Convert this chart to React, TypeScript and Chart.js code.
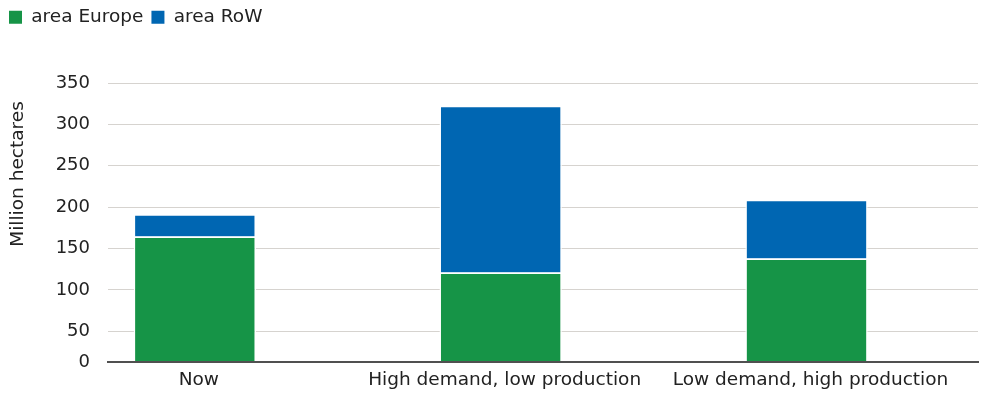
import React, { useEffect, useRef } from "react";
import { Chart, registerables } from "chart.js";

Chart.register(...registerables);

const CATEGORIES = ["Now", "High demand, low production", "Low demand, high production"];
const AREA_EUROPE = [164.5, 121, 138];
const AREA_ROW = [27, 201.5, 71];
const SERIES_NAMES = ["area Europe", "area RoW"];
const Y_TICKS = [13, 50, 100, 150, 200, 250, 300, 350];
const Y_MIN = 13;
const Y_MAX = 350;
const Y_TITLE = "Million hectares";

const FONT = "'DejaVu Sans', Verdana, sans-serif";

const yTitlePlugin = {
  id: "yTitle",
  afterDraw(chart: any) {
    const ctx = chart.ctx;
    ctx.save();
    ctx.translate(18, 174);
    ctx.rotate(-Math.PI / 2);
    ctx.font = `18.5px ${FONT}`;
    ctx.fillStyle = "#222";
    ctx.textAlign = "center";
    ctx.textBaseline = "middle";
    ctx.fillText(Y_TITLE, 0, 0);
    ctx.restore();
  },
};

const legendSpacePlugin = {
  id: "legendSpace",
  beforeInit(chart: any) {
    const legend = chart.legend;
    if (!legend) return;
    const fit = legend.fit;
    legend.fit = function () {
      fit.call(this);
      this.height = 83;
    };
  },
};

export default function App() {
  const ref = useRef<HTMLCanvasElement | null>(null);

  useEffect(() => {
    if (!ref.current) return;
    Chart.defaults.font.family = FONT;
    Chart.defaults.font.size = 18;
    Chart.defaults.color = "#222";
    const baseLabels = Chart.defaults.plugins.legend.labels.generateLabels;
    const chart = new Chart(ref.current, {
      type: "bar",
      data: {
        datasets: [
          {
            label: SERIES_NAMES[0],
            data: AREA_EUROPE.map((v, i) => ({ x: i, y: v })),
            backgroundColor: "#169447",
            borderColor: "#ffffff",
            borderWidth: 1.5,
            clip: 0,
          },
          {
            label: SERIES_NAMES[1],
            data: AREA_ROW.map((v, i) => ({ x: i, y: v })),
            backgroundColor: "#0066b2",
            borderColor: "#ffffff",
            borderWidth: 1.5,
            clip: 0,
          },
        ],
      },
      options: {
        animation: false,
        responsive: true,
        maintainAspectRatio: false,
        layout: { padding: { left: 1, right: 3, top: 0, bottom: 0 } },
        datasets: { bar: { barPercentage: 1, categoryPercentage: 0.4 } },
        plugins: {
          legend: {
            display: true,
            position: "top",
            align: "start",
            labels: {
              boxWidth: 13,
              boxHeight: 13,
              padding: 8,
              color: "#222",
              font: { size: 18.5, family: FONT },
              generateLabels: (c: any) =>
                baseLabels(c).map((l: any) => ({ ...l, lineWidth: 0, strokeStyle: l.fillStyle })),
            },
          },
          tooltip: { enabled: false },
        },
        scales: {
          x: {
            type: "linear",
            stacked: true,
            offset: false,
            min: -0.2838,
            max: 2.5607,
            afterBuildTicks: (scale: any) => {
              scale.ticks = CATEGORIES.map((_, i) => ({ value: i }));
            },
            afterFit: (scale: any) => {
              scale.height = 31;
            },
            grid: { display: false, drawTicks: false, offset: false },
            border: { display: true, color: "#505050", width: 2, z: 1 },
            ticks: {
              autoSkip: false,
              maxRotation: 0,
              padding: 7,
              labelOffset: 4,
              color: "#222",
              font: { size: 18.5, family: FONT },
              callback: (v: any) => CATEGORIES[v as number] ?? "",
            },
          },
          y: {
            type: "linear",
            stacked: true,
            min: Y_MIN,
            max: Y_MAX,
            afterBuildTicks: (scale: any) => {
              scale.ticks = Y_TICKS.map((v) => ({ value: v }));
            },
            afterFit: (scale: any) => {
              scale.width = 107;
            },
            grid: {
              drawTicks: false,
              color: (c: any) => (c.tick && c.tick.value === Y_MIN ? "rgba(0,0,0,0)" : "#d6d3cf"),
              lineWidth: 1,
            },
            border: { display: false },
            ticks: {
              padding: 18,
              color: "#222",
              font: { size: 18, family: FONT },
              callback: (v: any) => (v === Y_MIN ? "0" : String(v)),
            },
          },
        },
      },
      plugins: [yTitlePlugin, legendSpacePlugin],
    } as any);
    return () => chart.destroy();
  }, []);

  return (
    <div style={{ position: "fixed", left: 0, top: 0, width: 981, height: 393, background: "#fff" }}>
      <canvas ref={ref} />
    </div>
  );
}
